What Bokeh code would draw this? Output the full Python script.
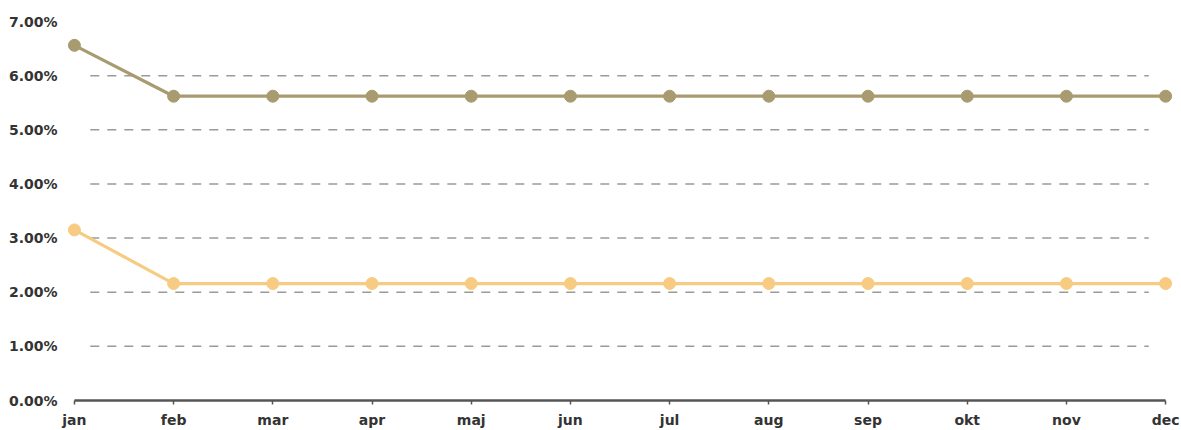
from bokeh.plotting import figure
from bokeh.models import Range1d, FixedTicker, ColumnDataSource
from bokeh.embed import file_html
from bokeh.resources import INLINE

months = ["jan", "feb", "mar", "apr", "maj", "jun", "jul", "aug", "sep", "okt", "nov", "dec"]
series_top = [6.56, 5.62, 5.62, 5.62, 5.62, 5.62, 5.62, 5.62, 5.62, 5.62, 5.62, 5.62]
series_bottom = [3.15, 2.16, 2.16, 2.16, 2.16, 2.16, 2.16, 2.16, 2.16, 2.16, 2.16, 2.16]
y_ticks = [0, 1, 2, 3, 4, 5, 6, 7]
grid_values = [1, 2, 3, 4, 5, 6]

xs = list(range(len(months)))

p = figure(width=1181, height=430, output_backend="svg", toolbar_location=None,
           x_range=Range1d(-0.1, 11.16), y_range=Range1d(0, 7),
           min_border_left=64, min_border_right=0, min_border_top=21, min_border_bottom=30)
p.outline_line_color = None
p.xgrid.visible = False
p.ygrid.visible = False
p.background_fill_color = "white"
p.border_fill_color = "white"

# dashed gridlines (they stop short of the first/last month like the reference)
p.segment(x0=[0.16] * len(grid_values), x1=[10.83] * len(grid_values),
          y0=grid_values, y1=grid_values, line_color="#9a9a9a",
          line_width=1.5, line_dash="9 8")

top_col = "#a99b70"
bot_col = "#f7cc82"
src = ColumnDataSource(dict(x=xs, top=series_top, bot=series_bottom))
p.line("x", "bot", source=src, line_color=bot_col, line_width=3.2)
p.scatter("x", "bot", source=src, size=12, fill_color=bot_col, line_color=bot_col)
p.line("x", "top", source=src, line_color=top_col, line_width=3.2)
p.scatter("x", "top", source=src, size=12, fill_color=top_col, line_color=top_col)

# x axis
xa = p.xaxis[0]
xa.ticker = FixedTicker(ticks=xs)
xa.major_label_overrides = {i: m for i, m in enumerate(months)}
xa.bounds = (0, 11)
xa.axis_line_color = "#555555"
xa.axis_line_width = 2.5
xa.major_tick_line_color = "#555555"
xa.major_tick_line_width = 1.5
xa.major_tick_in = 0
xa.major_tick_out = 4
xa.minor_tick_line_color = None
xa.major_label_standoff = 7
xa.major_label_text_font = "DejaVu Sans"
xa.major_label_text_font_style = "bold"
xa.major_label_text_font_size = "14px"
xa.major_label_text_color = "#333333"

# y axis
ya = p.yaxis[0]
ya.ticker = FixedTicker(ticks=y_ticks)
ya.major_label_overrides = {v: f"{v:.2f}%" for v in y_ticks}
ya.axis_line_color = None
ya.major_tick_line_color = None
ya.minor_tick_line_color = None
ya.major_label_standoff = 1
ya.major_label_text_font = "DejaVu Sans"
ya.major_label_text_font_style = "bold"
ya.major_label_text_font_size = "14px"
ya.major_label_text_color = "#333333"

open("out.html", "w").write(file_html(p, INLINE))
